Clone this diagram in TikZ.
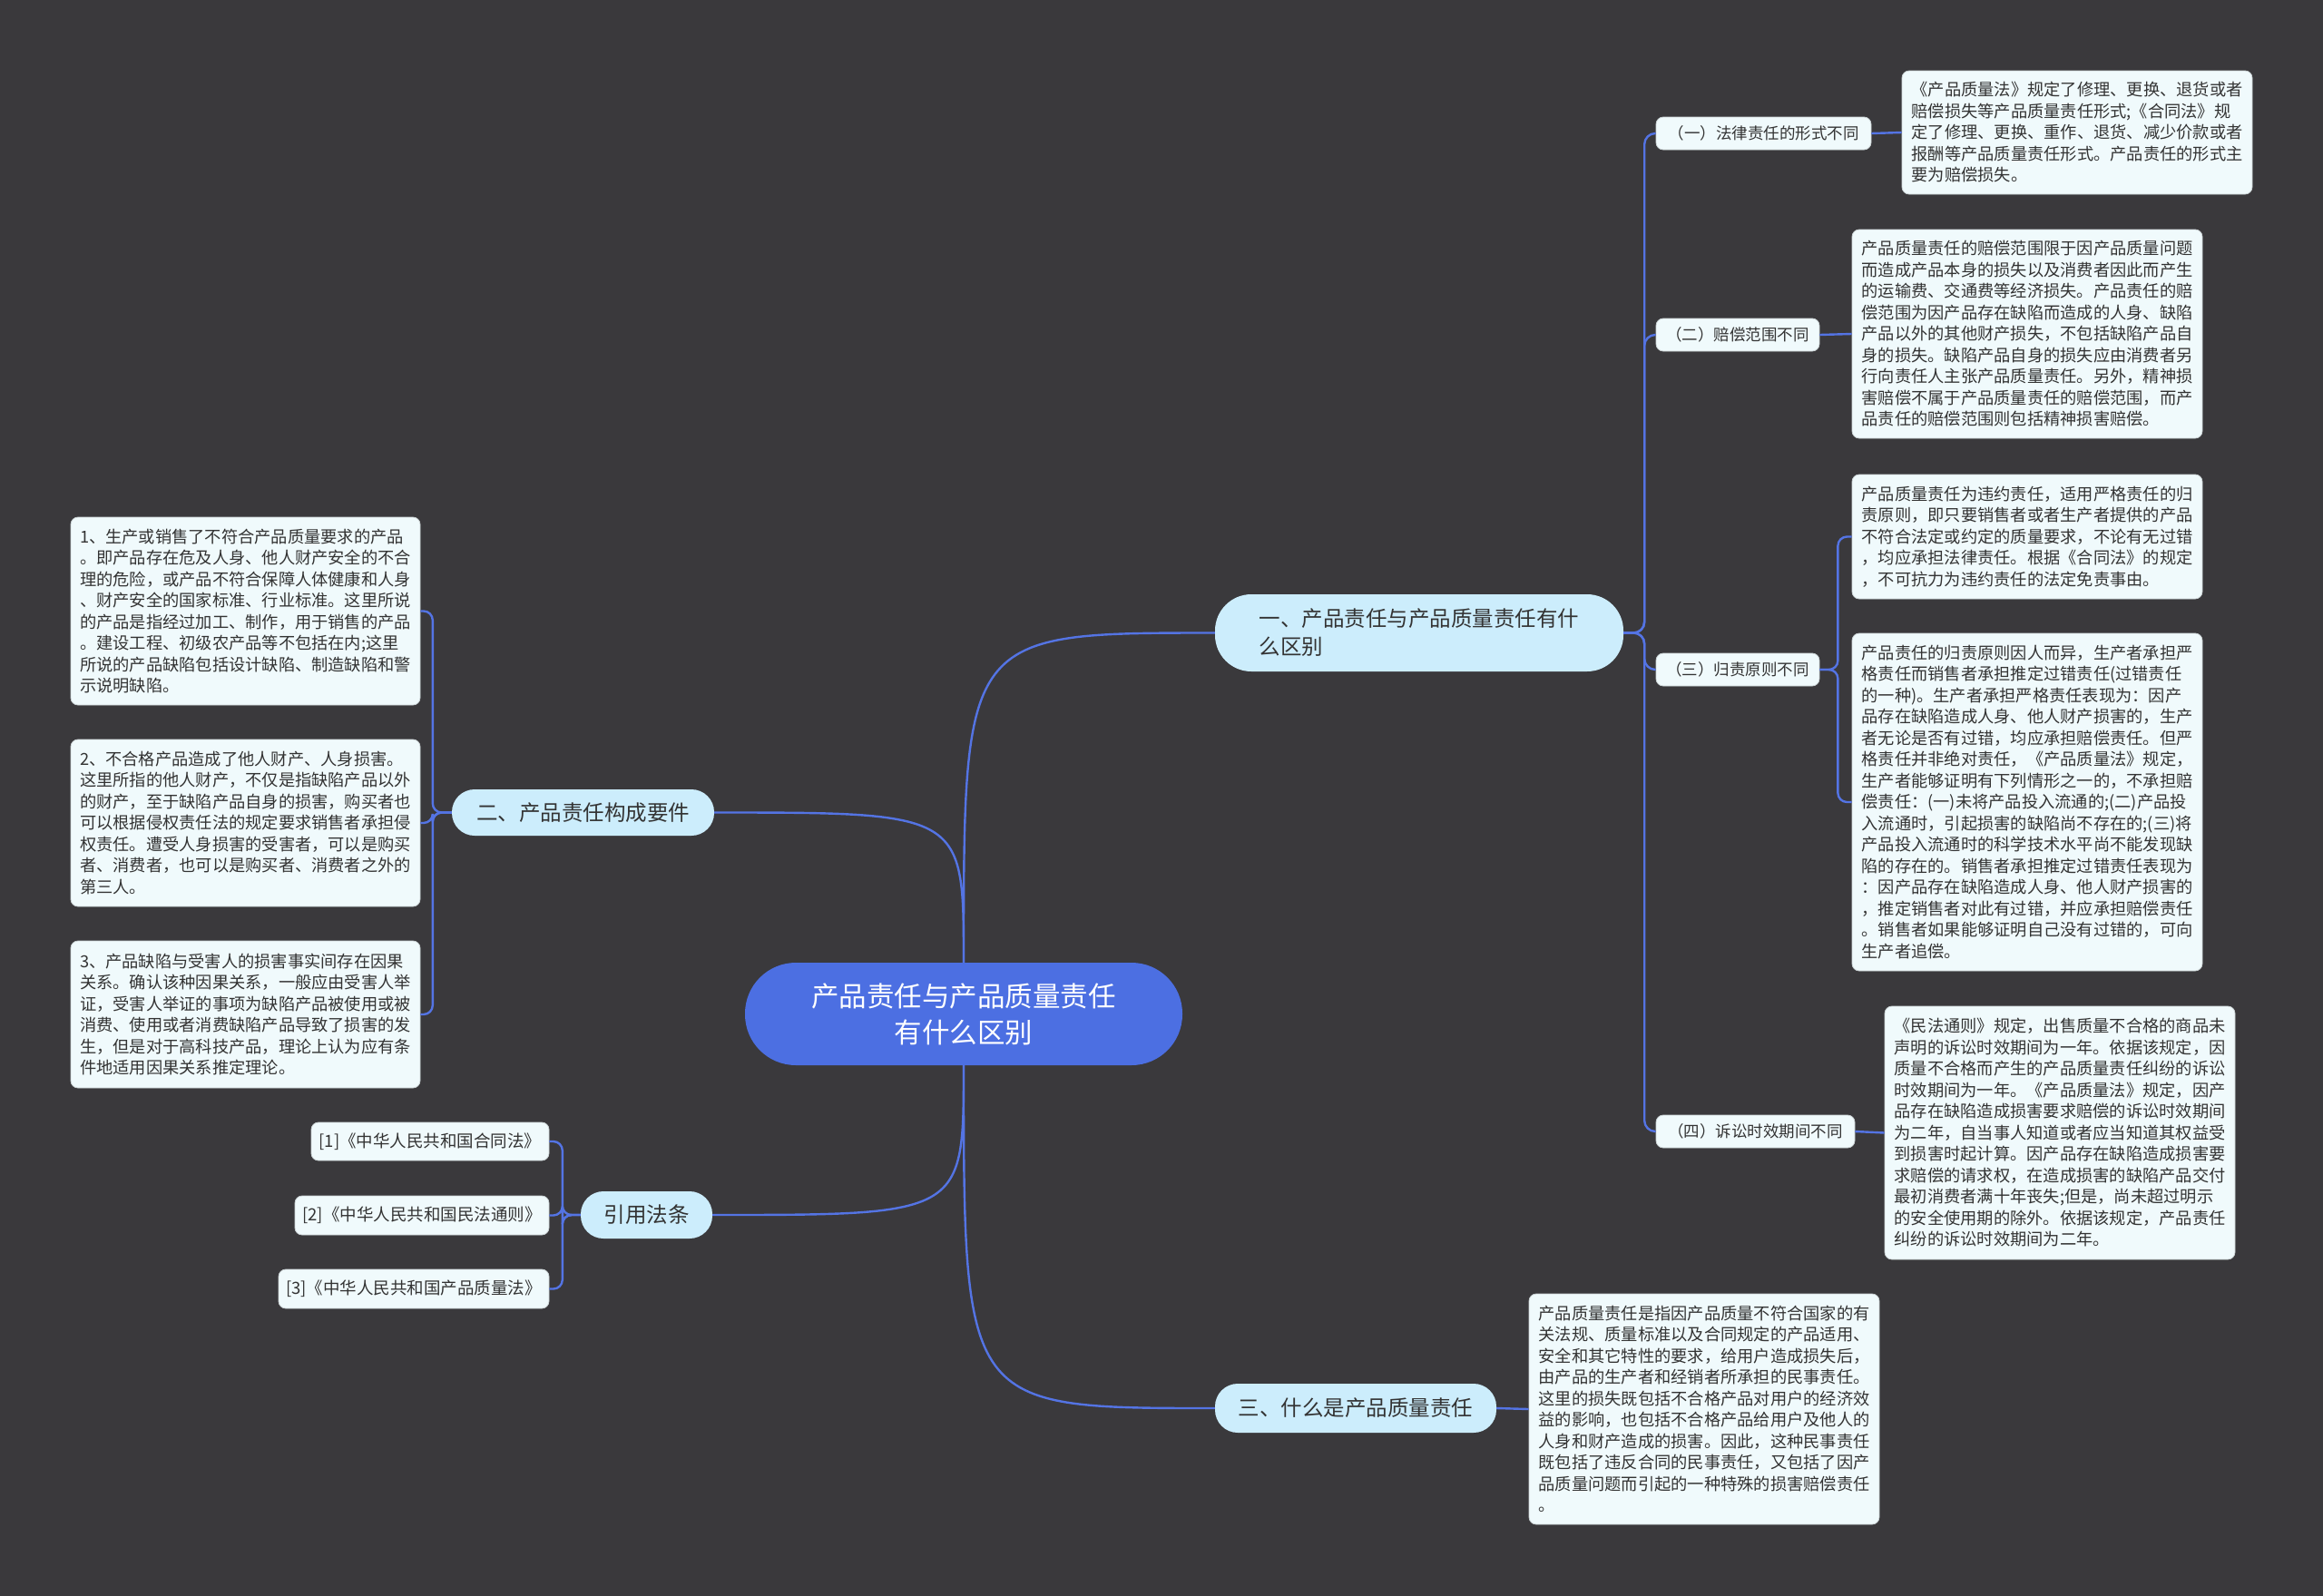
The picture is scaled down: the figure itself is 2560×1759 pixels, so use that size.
\documentclass[tikz,border=0pt]{standalone}
\usepackage{fontspec}
\newfontfamily\cjk{Noto Sans CJK SC}
\definecolor{mapbg}{RGB}{58,57,60}
\definecolor{maproot}{RGB}{76,111,226}
\definecolor{maptopic}{RGB}{204,237,252}
\definecolor{mapnote}{RGB}{240,250,252}
\definecolor{mapline}{RGB}{84,116,228}
\definecolor{maptext}{RGB}{51,51,51}
\usetikzlibrary{positioning}
\tikzset{
  root/.style={fill=maproot, rounded corners=56pt, minimum width=482pt, minimum height=113pt, align=center, text=white, font=\cjk\fontsize{30.5}{40}\selectfont},
  topic/.style={fill=maptopic, rounded corners=25pt, align=left, text=maptext, font=\cjk\fontsize{23.5}{31}\selectfont},
  sublabel/.style={fill=mapnote, draw=mapnote!85!black, line width=0.8pt, rounded corners=8pt, minimum height=36pt, text=maptext, font=\cjk\fontsize{17.5}{21}\selectfont},
  note/.style={fill=mapnote, draw=mapnote!85!black, line width=0.8pt, rounded corners=8pt, minimum width=386pt, align=left, text=maptext, font=\cjk\fontsize{18.25}{23.5}\selectfont},
  lawref/.style={fill=mapnote, draw=mapnote!85!black, line width=0.8pt, rounded corners=8pt, minimum height=43pt, text=maptext, font=\cjk\fontsize{18.5}{22}\selectfont},
  link/.style={draw=mapline, line width=2.4pt}
}
\begin{document}
\begin{tikzpicture}[x=1pt, y=-1pt]
  \fill[mapbg] (0,0) rectangle (2560,1759);

  % root
  \node[root] (root) at (1062,1117.5) {产品责任与产品质量责任\\有什么区别};

  % main topics
  \node[topic, rounded corners=40pt, minimum width=450pt, minimum height=85pt] (t1) at (1564,697.5) {一、产品责任与产品质量责任有什\\么区别};
  \node[topic, minimum width=289pt, minimum height=51pt] (t2) at (642.5,895.5) {二、产品责任构成要件};
  \node[topic, minimum width=310pt, minimum height=54pt] (t3) at (1494,1552) {三、什么是产品质量责任};
  \node[topic, minimum width=145pt, minimum height=52pt] (t4) at (712.5,1339) {引用法条};

  % sub topics of t1
  \node[sublabel, minimum width=237pt] (s1) at (1943.5,147) {（一）法律责任的形式不同};
  \node[sublabel, minimum width=180pt] (s2) at (1915,369) {（二）赔偿范围不同};
  \node[sublabel, minimum width=180pt] (s3) at (1915,738) {（三）归责原则不同};
  \node[sublabel, minimum width=219pt] (s4) at (1934.5,1247) {（四）诉讼时效期间不同};

  % notes
  \node[note, minimum height=136pt] (n1) at (2289,146) {《产品质量法》规定了修理、更换、退货或者\\
赔偿损失等产品质量责任形式;《合同法》规\\
定了修理、更换、重作、退货、减少价款或者\\
报酬等产品质量责任形式。产品责任的形式主\\
要为赔偿损失。};
  \node[note, minimum height=230pt] (n2) at (2234,368) {产品质量责任的赔偿范围限于因产品质量问题\\
而造成产品本身的损失以及消费者因此而产生\\
的运输费、交通费等经济损失。产品责任的赔\\
偿范围为因产品存在缺陷而造成的人身、缺陷\\
产品以外的其他财产损失，不包括缺陷产品自\\
身的损失。缺陷产品自身的损失应由消费者另\\
行向责任人主张产品质量责任。另外，精神损\\
害赔偿不属于产品质量责任的赔偿范围，而产\\
品责任的赔偿范围则包括精神损害赔偿。};
  \node[note, minimum height=137pt] (n3a) at (2234,591.5) {产品质量责任为违约责任，适用严格责任的归\\
责原则，即只要销售者或者生产者提供的产品\\
不符合法定或约定的质量要求，不论有无过错\\
，均应承担法律责任。根据《合同法》的规定\\
，不可抗力为违约责任的法定免责事由。};
  \node[note, minimum height=372pt] (n3b) at (2234,884) {产品责任的归责原则因人而异，生产者承担严\\
格责任而销售者承担推定过错责任(过错责任\\
的一种)。生产者承担严格责任表现为：因产\\
品存在缺陷造成人身、他人财产损害的，生产\\
者无论是否有过错，均应承担赔偿责任。但严\\
格责任并非绝对责任，《产品质量法》规定，\\
生产者能够证明有下列情形之一的，不承担赔\\
偿责任：(一)未将产品投入流通的;(二)产品投\\
入流通时，引起损害的缺陷尚不存在的;(三)将\\
产品投入流通时的科学技术水平尚不能发现缺\\
陷的存在的。销售者承担推定过错责任表现为\\
：因产品存在缺陷造成人身、他人财产损害的\\
，推定销售者对此有过错，并应承担赔偿责任\\
。销售者如果能够证明自己没有过错的，可向\\
生产者追偿。};
  \node[note, minimum height=279pt] (n4) at (2270,1248.5) {《民法通则》规定，出售质量不合格的商品未\\
声明的诉讼时效期间为一年。依据该规定，因\\
质量不合格而产生的产品质量责任纠纷的诉讼\\
时效期间为一年。《产品质量法》规定，因产\\
品存在缺陷造成损害要求赔偿的诉讼时效期间\\
为二年，自当事人知道或者应当知道其权益受\\
到损害时起计算。因产品存在缺陷造成损害要\\
求赔偿的请求权，在造成损害的缺陷产品交付\\
最初消费者满十年丧失;但是，尚未超过明示\\
的安全使用期的除外。依据该规定，产品责任\\
纠纷的诉讼时效期间为二年。};
  \node[note, minimum height=254pt] (n5) at (1878,1553) {产品质量责任是指因产品质量不符合国家的有\\
关法规、质量标准以及合同规定的产品适用、\\
安全和其它特性的要求，给用户造成损失后，\\
由产品的生产者和经销者所承担的民事责任。\\
这里的损失既包括不合格产品对用户的经济效\\
益的影响，也包括不合格产品给用户及他人的\\
人身和财产造成的损害。因此，这种民事责任\\
既包括了违反合同的民事责任，又包括了因产\\
品质量问题而引起的一种特殊的损害赔偿责任\\
。};

  % left side notes
  \node[note, minimum width=385pt, minimum height=207pt] (l1) at (270.5,673.5) {1、生产或销售了不符合产品质量要求的产品\\
。即产品存在危及人身、他人财产安全的不合\\
理的危险，或产品不符合保障人体健康和人身\\
、财产安全的国家标准、行业标准。这里所说\\
的产品是指经过加工、制作，用于销售的产品\\
。建设工程、初级农产品等不包括在内;这里\\
所说的产品缺陷包括设计缺陷、制造缺陷和警\\
示说明缺陷。};
  \node[note, minimum width=385pt, minimum height=184pt] (l2) at (270.5,907) {2、不合格产品造成了他人财产、人身损害。\\
这里所指的他人财产，不仅是指缺陷产品以外\\
的财产，至于缺陷产品自身的损害，购买者也\\
可以根据侵权责任法的规定要求销售者承担侵\\
权责任。遭受人身损害的受害者，可以是购买\\
者、消费者，也可以是购买者、消费者之外的\\
第三人。};
  \node[note, minimum width=385pt, minimum height=162pt] (l3) at (270.5,1118) {3、产品缺陷与受害人的损害事实间存在因果\\
关系。确认该种因果关系，一般应由受害人举\\
证，受害人举证的事项为缺陷产品被使用或被\\
消费、使用或者消费缺陷产品导致了损害的发\\
生，但是对于高科技产品，理论上认为应有条\\
件地适用因果关系推定理论。};

  % law references
  \node[lawref, minimum width=262pt, minimum height=42pt] (r1) at (474,1258) {[1]《中华人民共和国合同法》};
  \node[lawref, minimum width=280pt] (r2) at (465,1339.5) {[2]《中华人民共和国民法通则》};
  \node[lawref, minimum width=298pt] (r3) at (456,1420.5) {[3]《中华人民共和国产品质量法》};

  % connectors from root
  \draw[link] (root.north) .. controls (root.north |- t1.west) .. (t1.west);
  \draw[link] (root.north) .. controls (root.north |- t2.east) .. (t2.east);
  \draw[link] (root.south) .. controls (root.south |- t3.west) .. (t3.west);
  \draw[link] (root.south) .. controls (root.south |- t4.east) .. (t4.east);

  % branches
  \foreach \s in {s1,s2,s3,s4}
    \draw[link, rounded corners=12pt] (t1.east) -- ++(23,0) |- (\s.west);
  \draw[link] (s1.east) -- (n1.west);
  \draw[link] (s2.east) -- (n2.west);
  \foreach \n in {n3a,n3b}
    \draw[link, rounded corners=10pt] (s3.east) -- ++(20,0) |- (\n.west);
  \draw[link] (s4.east) -- (n4.west);
  \draw[link] (t3.east) -- (n5.west);
  \foreach \n in {l1,l2,l3}
    \draw[link, rounded corners=10pt] (t2.west) -- ++(-21,0) |- (\n.east);
  \foreach \n in {r1,r2,r3}
    \draw[link, rounded corners=10pt] (t4.west) -- ++(-20,0) |- (\n.east);
\end{tikzpicture}
\end{document}
